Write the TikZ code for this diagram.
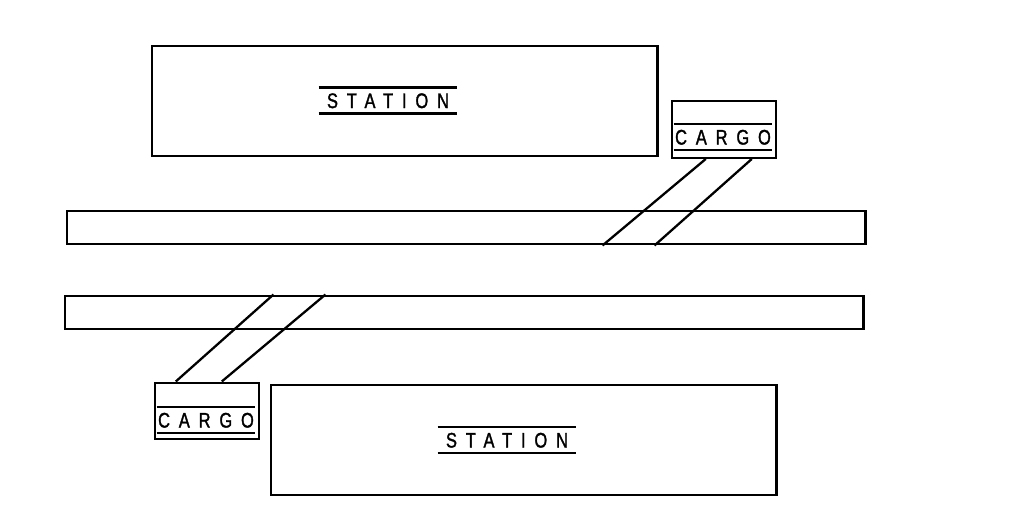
\documentclass[tikz,border=0pt]{standalone}
\usepackage{fontspec}
\newfontfamily\signfont[LetterSpace=42,FakeStretch=0.78,FakeBold=1.5]{Liberation Sans}
\usetikzlibrary{calc}
\tikzset{
  hall/.style  = {draw,line width=1.7pt,minimum width=101mm,minimum height=22mm,
                  inner sep=0pt},
  shed/.style  = {draw,line width=1.4pt,minimum width=20.8mm,minimum height=11.3mm,
                  inner sep=0pt},
  track/.style = {draw,line width=1.7pt,minimum width=159.6mm,minimum height=6.6mm,
                  inner sep=0pt},
  sign/.style  = {font=\signfont\fontsize{12}{14}\selectfont,text height=8.6pt,
                  text depth=0pt,inner ysep=2.8pt,inner xsep=0pt},
  rule/.style  = {line width=1.4pt},
  spur/.style  = {line width=1.3pt},
}

\begin{document}
\begin{tikzpicture}[x=0.2mm,y=-0.2mm]
  \useasboundingbox (0,0) rectangle (1017,525);
  % buildings and tracks
  \node[hall]  (st1) at (404.5,101) {};
  \node[hall]  (st2) at (523.5,440) {};
  \node[shed]  (cg1) at (724,129.5) {};
  \node[shed]  (cg2) at (207,411) {};
  \node[track] (tr1) at (466,227.5) {};
  \node[track] (tr2) at (464,312.5) {};
  % signs
  \node[sign,minimum width=27.6mm] (lb1) at (388,100.5) {STATION};
  \node[sign,minimum width=27.6mm] (lb2) at (507,440) {STATION};
  \node[sign,minimum width=19.6mm] (lc1) at (723,137) {CARGO};
  \node[sign,minimum width=19.6mm] (lc2) at (206,420) {CARGO};
  \foreach \n in {lb1,lb2,lc1,lc2}
    \draw[rule] (\n.north west) -- (\n.north east) (\n.south west) -- (\n.south east);
  % spurs
  \draw[spur] ($(cg1.south west)+(35,0)$) -- ($(tr1.south west)+(537,0)$);
  \draw[spur] ($(cg1.south west)+(81,0)$) -- ($(tr1.south west)+(589,0)$);
  \draw[spur] ($(cg2.north west)+(22,0)$) -- ($(tr2.north west)+(210,0)$);
  \draw[spur] ($(cg2.north west)+(68,0)$) -- ($(tr2.north west)+(262,0)$);
\end{tikzpicture}
\end{document}
